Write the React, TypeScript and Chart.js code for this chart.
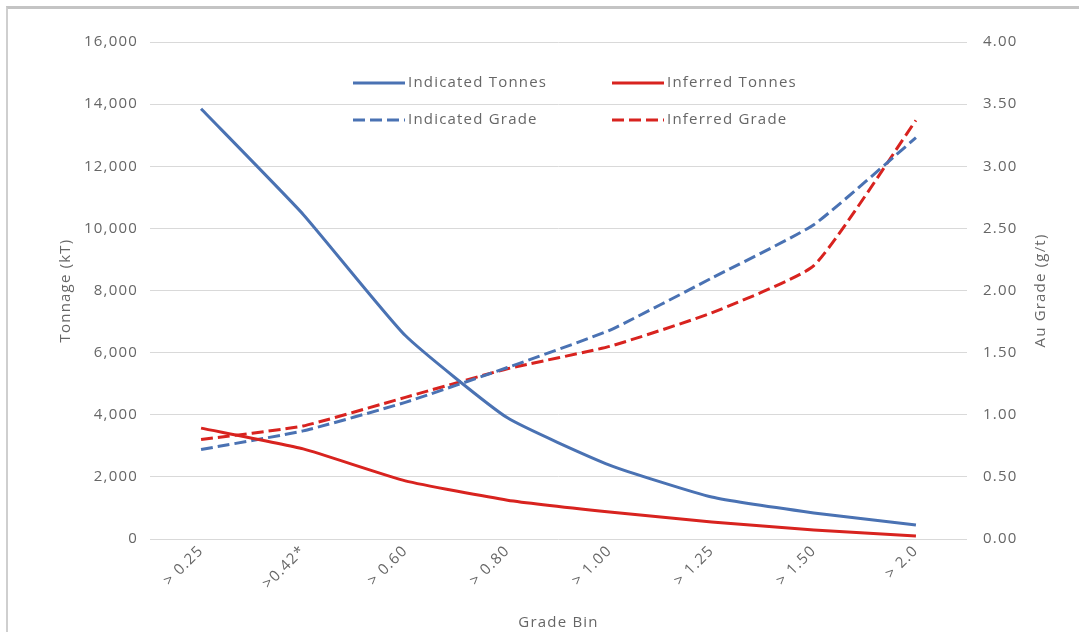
import React, { useEffect, useRef } from 'react';
import { Chart, registerables } from 'chart.js';

Chart.register(...registerables);

const gradeBins = ['> 0.25', '>0.42*', '> 0.60', '> 0.80', '> 1.00', '> 1.25', '> 1.50', '> 2.0'];
const indicatedTonnes = [13850, 10450, 6550, 3900, 2380, 1350, 840, 450];
const inferredTonnes = [3570, 2900, 1870, 1250, 870, 550, 290, 100];
const indicatedGrade = [0.72, 0.87, 1.10, 1.38, 1.68, 2.10, 2.53, 3.23];
const inferredGrade = [0.80, 0.91, 1.14, 1.37, 1.55, 1.82, 2.20, 3.37];

const tonnageAxisTitle = 'Tonnage (kT)';
const gradeAxisTitle = 'Au Grade (g/t)';
const binAxisTitle = 'Grade Bin';

const BLUE = '#4a72b3';
const RED = '#d8231f';
const TEXT = '#666666';
const FONT = "'Open Sans', sans-serif";
const FONT_SIZE = 15;
const SPACING = '1.2px';
const DASH = [12, 5];

const spacingPlugin = {
  id: 'spacing',
  beforeDraw(chart: any) {
    chart.ctx.letterSpacing = SPACING;
  },
};

const legendPlugin = {
  id: 'customLegend',
  afterDraw(chart: any) {
    const ctx = chart.ctx;
    const items = [
      { ds: 0, x: 353, y: 83 },
      { ds: 1, x: 612, y: 83 },
      { ds: 2, x: 353, y: 120 },
      { ds: 3, x: 612, y: 120 },
    ];
    ctx.save();
    ctx.letterSpacing = SPACING;
    items.forEach((it) => {
      const d = chart.data.datasets[it.ds];
      ctx.beginPath();
      ctx.strokeStyle = d.borderColor;
      ctx.lineWidth = 3;
      ctx.setLineDash(d.borderDash || []);
      ctx.moveTo(it.x, it.y);
      ctx.lineTo(it.x + 52, it.y);
      ctx.stroke();
      ctx.setLineDash([]);
      ctx.fillStyle = TEXT;
      ctx.font = `${FONT_SIZE}px ${FONT}`;
      ctx.textBaseline = 'middle';
      ctx.textAlign = 'left';
      ctx.fillText(d.label, it.x + 55, it.y);
    });
    // right axis title, reading bottom to top
    const area = chart.chartArea;
    ctx.translate(1041, (area.top + area.bottom) / 2);
    ctx.rotate(-Math.PI / 2);
    ctx.textAlign = 'center';
    ctx.textBaseline = 'middle';
    ctx.font = `${FONT_SIZE}px ${FONT}`;
    ctx.fillStyle = TEXT;
    ctx.fillText(gradeAxisTitle, 0, 0);
    ctx.restore();
  },
};

export default function App() {
  const canvasRef = useRef<HTMLCanvasElement | null>(null);

  useEffect(() => {
    if (!canvasRef.current) return;
    const tickFont = { family: FONT, size: FONT_SIZE };
    const chart = new Chart(canvasRef.current, {
      type: 'line',
      data: {
        labels: gradeBins,
        datasets: [
          { label: 'Indicated Tonnes', data: indicatedTonnes, borderColor: BLUE, yAxisID: 'y', borderWidth: 3 },
          { label: 'Inferred Tonnes', data: inferredTonnes, borderColor: RED, yAxisID: 'y', borderWidth: 3 },
          { label: 'Indicated Grade', data: indicatedGrade, borderColor: BLUE, yAxisID: 'y1', borderWidth: 3, borderDash: DASH },
          { label: 'Inferred Grade', data: inferredGrade, borderColor: RED, yAxisID: 'y1', borderWidth: 3, borderDash: DASH },
        ],
      },
      options: {
        animation: false,
        responsive: true,
        maintainAspectRatio: false,
        layout: { padding: { top: 42, left: 0, right: 0, bottom: 0 } },
        elements: {
          point: { radius: 0 },
          line: { tension: 0.15, fill: false, borderCapStyle: 'butt' },
        },
        plugins: {
          legend: { display: false },
          tooltip: { enabled: false },
        },
        scales: {
          x: {
            offset: true,
            grid: { display: false, drawTicks: false },
            border: { display: false },
            ticks: { color: TEXT, font: tickFont, minRotation: 45, maxRotation: 45, padding: 3, autoSkip: false },
            title: { display: true, text: binAxisTitle, color: TEXT, font: tickFont, padding: { top: 5, bottom: 0 } },
            afterFit: (s: any) => { s.height = 93; },
          },
          y: {
            position: 'left',
            min: 0,
            max: 16000,
            grid: { color: '#d9d9d9', drawTicks: false, lineWidth: 1 },
            border: { display: false },
            ticks: { stepSize: 2000, color: TEXT, font: tickFont, padding: 12 },
            title: { display: true, text: tonnageAxisTitle, color: TEXT, font: tickFont, padding: { top: 57, bottom: 0 } },
            afterFit: (s: any) => { s.width = 150; },
          },
          y1: {
            position: 'right',
            min: 0,
            max: 4,
            grid: { drawOnChartArea: false, drawTicks: false },
            border: { display: false },
            ticks: { stepSize: 0.5, color: TEXT, font: tickFont, padding: 16, callback: (v: any) => Number(v).toFixed(2) },
            afterFit: (s: any) => { s.width = 112; },
          },
        },
      },
      plugins: [spacingPlugin, legendPlugin],
    } as any);
    return () => chart.destroy();
  }, []);

  return (
    <div style={{ position: 'absolute', left: 0, top: 0, width: 1079, height: 632, background: '#fff' }}>
      <canvas ref={canvasRef} />
      <div
        style={{
          position: 'absolute',
          left: 6,
          top: 6,
          right: 0,
          bottom: 0,
          borderTop: '3px solid #c4c4c4',
          borderLeft: '2px solid #cfcfcf',
          pointerEvents: 'none',
        }}
      />
    </div>
  );
}
